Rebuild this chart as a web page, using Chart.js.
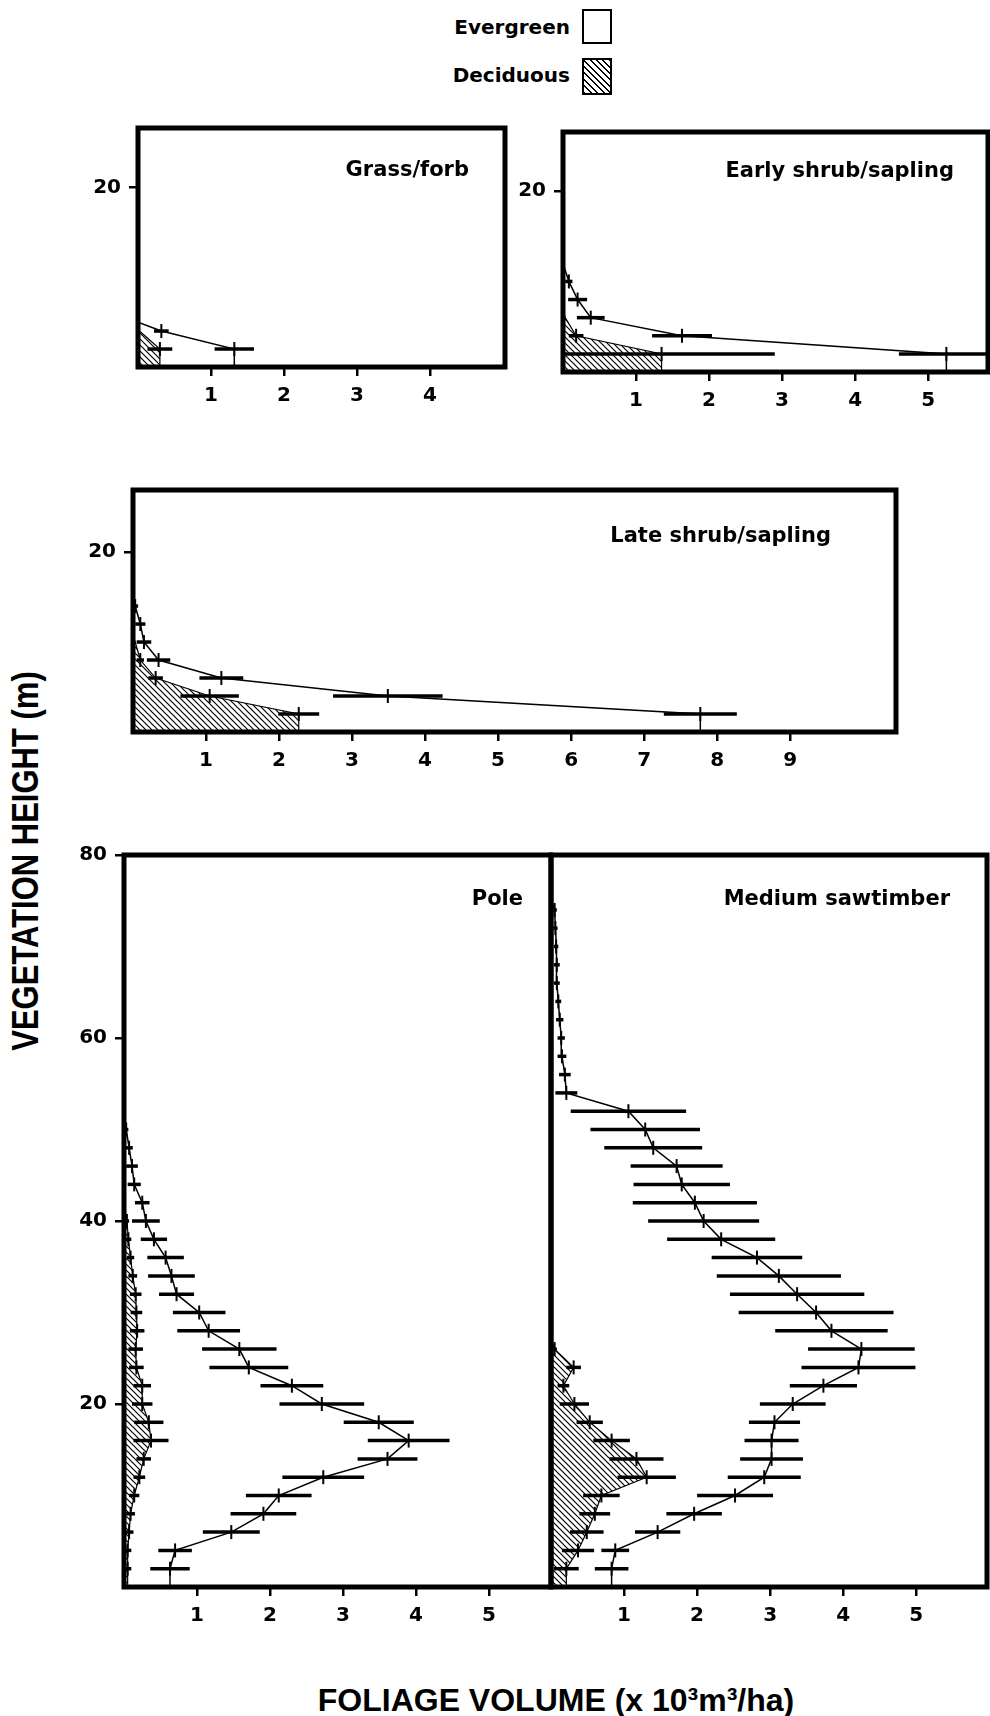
<!DOCTYPE html>
<html>
<head>
<meta charset="utf-8">
<script src="https://cdn.jsdelivr.net/npm/chart.js@4.4.1/dist/chart.umd.min.js"></script>
<style>
  html, body { margin: 0; padding: 0; background: #fff; }
  #page { position: relative; width: 990px; height: 1716px; overflow: hidden; background: #fff; }
  .panel { position: absolute; }
  .legend-text { position: absolute; right: 420px; font: bold 20px "DejaVu Sans", sans-serif; line-height: 24px; color: #000; }
  .legend-box { position: absolute; left: 582px; width: 26px; border: 2.5px solid #000; background: #fff; }
  #hatchBox { background: repeating-linear-gradient(45deg, #000 0 1.4px, #fff 1.4px 4.5px); }
  #ylab { position: absolute; left: 26px; top: 861px; white-space: nowrap;
          transform: translate(-50%, -50%) rotate(-90deg) scaleY(1.2);
          font: bold 31px "Liberation Sans", sans-serif; color: #000; }
  #xlab { position: absolute; left: 556px; top: 1700px; white-space: nowrap;
          transform: translate(-50%, -50%);
          font: bold 32px "Liberation Sans", sans-serif; color: #000; }
</style>
</head>
<body>
<div id="page">
  <div class="legend-text" style="top:15px">Evergreen</div>
  <div class="legend-box" style="top:9px;height:31px"></div>
  <div class="legend-text" style="top:63px">Deciduous</div>
  <div class="legend-box" id="hatchBox" style="top:58px;height:33px"></div>
  <div id="ylab">VEGETATION HEIGHT (m)</div>
  <div id="xlab">FOLIAGE VOLUME (x 10³m³/ha)</div>
</div>
<script>
// ---- data (foliage volume x10^3 m^3/ha by height in m) ----

// Grass/forb
const grassHeights = [0, 2, 4, 5];
const grassTotal = [1.32, 1.32, 0.32, 0];
const grassTotalErr = [0, 0.27, 0.1, 0];
const grassDecidHeights = [0, 2, 4];
const grassDecid = [0.3, 0.3, 0.02];
const grassDecidErr = [0, 0.17, 0];

// Early shrub/sapling
const earlyHeights = [0, 2, 4, 6, 8, 10, 12];
const earlyTotal = [5.25, 5.25, 1.63, 0.38, 0.2, 0.08, 0];
const earlyTotalErr = [0, 0.65, 0.41, 0.19, 0.13, 0.05, 0];
const earlyDecidHeights = [0, 2, 4, 6, 7];
const earlyDecid = [1.35, 1.35, 0.18, 0.03, 0];
const earlyDecidErr = [0, 1.55, 0.1, 0, 0];

// Late shrub/sapling
const lateHeights = [0, 2, 4, 6, 8, 10, 12, 14, 16];
const lateTotal = [7.77, 7.77, 3.49, 1.21, 0.35, 0.15, 0.1, 0.03, 0];
const lateTotalErr = [0, 0.5, 0.75, 0.3, 0.16, 0.1, 0.07, 0.04, 0];
const lateDecidHeights = [0, 2, 4, 6, 8, 10, 11];
const lateDecid = [2.27, 2.27, 1.05, 0.31, 0.1, 0.03, 0];
const lateDecidErr = [0, 0.28, 0.4, 0.1, 0.05, 0, 0];

// Pole
const poleHeights = [0, 2, 4, 6, 8, 10, 12, 14, 16, 18, 20, 22, 24, 26, 28, 30, 32, 34, 36, 38, 40, 42, 44, 46, 48, 50, 51];
const poleTotal = [0.63, 0.63, 0.70, 1.47, 1.91, 2.12, 2.73, 3.61, 3.90, 3.49, 2.71, 2.30, 1.71, 1.58, 1.16, 1.03, 0.72, 0.65, 0.57, 0.41, 0.30, 0.25, 0.14, 0.11, 0.07, 0.03, 0];
const poleTotalErr = [0, 0.27, 0.23, 0.39, 0.45, 0.45, 0.56, 0.41, 0.56, 0.48, 0.58, 0.43, 0.54, 0.51, 0.43, 0.36, 0.24, 0.32, 0.25, 0.18, 0.19, 0.1, 0.09, 0.08, 0.05, 0.03, 0];
const poleDecidHeights = [0, 2, 4, 6, 8, 10, 12, 14, 16, 18, 20, 22, 24, 26, 28, 30, 32, 34, 36, 38, 40, 42];
const poleDecid = [0.05, 0.05, 0.05, 0.07, 0.09, 0.14, 0.21, 0.27, 0.37, 0.34, 0.25, 0.25, 0.17, 0.16, 0.18, 0.17, 0.16, 0.12, 0.09, 0.06, 0.04, 0];
const poleDecidErr = [0, 0.05, 0.05, 0.06, 0.06, 0.07, 0.08, 0.1, 0.24, 0.2, 0.14, 0.12, 0.1, 0.1, 0.1, 0.08, 0.08, 0.06, 0.05, 0.04, 0.03, 0];

// Medium sawtimber
const msHeights = [0, 2, 4, 6, 8, 10, 12, 14, 16, 18, 20, 22, 24, 26, 28, 30, 32, 34, 36, 38, 40, 42, 44, 46, 48, 50, 52, 54, 56, 58, 60, 62, 64, 66, 68, 70, 72, 74, 75];
const msTotal = [0.83, 0.83, 0.88, 1.46, 1.96, 2.52, 2.92, 3.02, 3.02, 3.06, 3.31, 3.73, 4.21, 4.25, 3.84, 3.63, 3.37, 3.12, 2.82, 2.33, 2.09, 1.97, 1.79, 1.72, 1.40, 1.29, 1.06, 0.21, 0.19, 0.15, 0.14, 0.12, 0.10, 0.08, 0.08, 0.07, 0.06, 0.05, 0];
const msTotalErr = [0, 0.23, 0.19, 0.31, 0.38, 0.52, 0.50, 0.43, 0.37, 0.35, 0.45, 0.46, 0.78, 0.73, 0.77, 1.06, 0.92, 0.85, 0.62, 0.74, 0.76, 0.85, 0.66, 0.63, 0.67, 0.75, 0.79, 0.15, 0.08, 0.06, 0.05, 0.05, 0.04, 0.04, 0.04, 0.03, 0.03, 0.03, 0];
const msDecidHeights = [0, 2, 4, 6, 8, 10, 12, 14, 16, 18, 20, 22, 24, 26, 27];
const msDecid = [0.21, 0.21, 0.37, 0.49, 0.60, 0.69, 1.31, 1.17, 0.83, 0.53, 0.32, 0.17, 0.31, 0.05, 0];
const msDecidErr = [0, 0.17, 0.22, 0.23, 0.21, 0.25, 0.4, 0.37, 0.25, 0.18, 0.2, 0.08, 0.1, 0.03, 0];

// tick labels
const smallYTicks = [20];
const tallYTicks = [20, 40, 60, 80];
const grassXTicks = [1, 2, 3, 4];
const fiveXTicks = [1, 2, 3, 4, 5];
const lateXTicks = [1, 2, 3, 4, 5, 6, 7, 8, 9];

Chart.defaults.font.family = '"DejaVu Sans", sans-serif';
Chart.defaults.color = '#000';

function makeHatch() {
  const c = document.createElement('canvas');
  c.width = 6; c.height = 6;
  const g = c.getContext('2d');
  g.strokeStyle = '#000';
  g.lineWidth = 1.2;
  g.beginPath();
  g.moveTo(-1, -1); g.lineTo(7, 7);
  g.moveTo(-1, 5); g.lineTo(1, 7);
  g.moveTo(5, -1); g.lineTo(7, 1);
  g.stroke();
  return g.createPattern(c, 'repeat');
}
const hatch = makeHatch();

// horizontal error bars, drawn from the chart's own scales
const errorBars = {
  id: 'errorBars',
  afterDatasetsDraw(chart) {
    const {ctx, chartArea: a, scales} = chart;
    ctx.save();
    ctx.beginPath();
    ctx.rect(a.left, a.top, a.width, a.height);
    ctx.clip();
    ctx.strokeStyle = '#000';
    ctx.lineWidth = 3.5;
    chart.data.datasets.forEach(ds => {
      ds.data.forEach((p, i) => {
        const e = ds.errors[i];
        if (!e) return;
        const y = scales.y.getPixelForValue(p.y);
        ctx.beginPath();
        ctx.moveTo(scales.x.getPixelForValue(p.x - e), y);
        ctx.lineTo(scales.x.getPixelForValue(p.x + e), y);
        ctx.stroke();
      });
    });
    ctx.restore();
  }
};

const frame = {
  id: 'frame',
  afterDraw(chart) {
    const {ctx, chartArea: a} = chart;
    ctx.save();
    ctx.strokeStyle = '#000';
    ctx.lineWidth = 5;
    ctx.strokeRect(a.left, a.top, a.width, a.height);
    ctx.restore();
  }
};

const panelTitle = {
  id: 'panelTitle',
  afterDraw(chart, args, opts) {
    const {ctx, chartArea: a} = chart;
    ctx.save();
    ctx.font = 'bold 21px "DejaVu Sans"';
    ctx.fillStyle = '#000';
    ctx.textAlign = 'right';
    ctx.textBaseline = 'middle';
    ctx.fillText(opts.text, a.right - opts.gap, a.top + opts.dy);
    ctx.restore();
  }
};

function toPoints(heights, values) {
  return heights.map((h, i) => ({x: values[i], y: h}));
}

function makePanel(p) {
  const padL = 75, padT = 22, padR = 22, padB = 55;
  const w = p.right - p.left, h = p.bottom - p.top;
  const canvas = document.createElement('canvas');
  canvas.className = 'panel';
  canvas.width = w + padL + padR;
  canvas.height = h + padT + padB;
  canvas.style.width = canvas.width + 'px';
  canvas.style.height = canvas.height + 'px';
  canvas.style.left = (p.left - padL) + 'px';
  canvas.style.top = (p.top - padT) + 'px';
  document.getElementById('page').appendChild(canvas);

  const marker = errs => (c => errs[c.dataIndex] > 0 ? 7 : 0);

  new Chart(canvas, {
    type: 'line',
    data: {
      datasets: [{
        label: 'Evergreen + deciduous',
        data: toPoints(p.heights, p.total),
        errors: p.totalErr,
        borderColor: '#000',
        borderWidth: 1.5,
        fill: false,
        tension: 0,
        pointStyle: 'line',
        rotation: 90,
        pointRadius: marker(p.totalErr),
        pointBorderColor: '#000',
        pointBorderWidth: 2
      }, {
        label: 'Deciduous',
        data: toPoints(p.decidHeights, p.decid),
        errors: p.decidErr,
        borderColor: '#000',
        borderWidth: 1.2,
        backgroundColor: hatch,
        fill: 'origin',
        tension: 0,
        pointStyle: 'line',
        rotation: 90,
        pointRadius: marker(p.decidErr),
        pointBorderColor: '#000',
        pointBorderWidth: 2
      }]
    },
    options: {
      indexAxis: 'y',
      responsive: false,
      animation: false,
      events: [],
      layout: { padding: { left: 0, top: padT, right: padR, bottom: 0 } },
      plugins: {
        legend: { display: false },
        tooltip: { enabled: false },
        panelTitle: { text: p.title, gap: p.titleGap, dy: p.titleDy }
      },
      scales: {
        x: {
          type: 'linear', min: 0, max: p.xMax,
          afterBuildTicks: s => { s.ticks = p.xTicks.map(v => ({value: v})); },
          afterFit: s => { s.height = padB; },
          ticks: { font: { size: 20, weight: 'bold' }, color: '#000', padding: 8, maxRotation: 0, autoSkip: false },
          grid: { drawOnChartArea: false, drawTicks: true, tickLength: 9, color: '#000', lineWidth: 2.5 },
          border: { display: false }
        },
        y: {
          type: 'linear', min: 0, max: p.yMax,
          afterBuildTicks: s => { s.ticks = p.yTicks.map(v => ({value: v})); },
          afterFit: s => { s.width = padL; },
          ticks: { font: { size: 20, weight: 'bold' }, color: '#000', padding: 8, autoSkip: false },
          grid: { drawOnChartArea: false, drawTicks: true, tickLength: 9, color: '#000', lineWidth: 2.5 },
          border: { display: false }
        }
      }
    },
    plugins: [errorBars, frame, panelTitle]
  });
}

makePanel({
  left: 138, top: 128, right: 505, bottom: 367, xMax: 5.03, yMax: 26.6,
  xTicks: grassXTicks, yTicks: smallYTicks,
  title: 'Grass/forb', titleGap: 36, titleDy: 43,
  heights: grassHeights, total: grassTotal, totalErr: grassTotalErr,
  decidHeights: grassDecidHeights, decid: grassDecid, decidErr: grassDecidErr
});

makePanel({
  left: 563, top: 132, right: 988, bottom: 372, xMax: 5.82, yMax: 26.5,
  xTicks: fiveXTicks, yTicks: smallYTicks,
  title: 'Early shrub/sapling', titleGap: 34, titleDy: 40,
  heights: earlyHeights, total: earlyTotal, totalErr: earlyTotalErr,
  decidHeights: earlyDecidHeights, decid: earlyDecid, decidErr: earlyDecidErr
});

makePanel({
  left: 133, top: 490, right: 896, bottom: 732, xMax: 10.45, yMax: 26.9,
  xTicks: lateXTicks, yTicks: smallYTicks,
  title: 'Late shrub/sapling', titleGap: 65, titleDy: 47,
  heights: lateHeights, total: lateTotal, totalErr: lateTotalErr,
  decidHeights: lateDecidHeights, decid: lateDecid, decidErr: lateDecidErr
});

makePanel({
  left: 124, top: 855, right: 551, bottom: 1587, xMax: 5.85, yMax: 80,
  xTicks: fiveXTicks, yTicks: tallYTicks,
  title: 'Pole', titleGap: 28, titleDy: 45,
  heights: poleHeights, total: poleTotal, totalErr: poleTotalErr,
  decidHeights: poleDecidHeights, decid: poleDecid, decidErr: poleDecidErr
});

makePanel({
  left: 551, top: 855, right: 987, bottom: 1587, xMax: 5.97, yMax: 80,
  xTicks: fiveXTicks, yTicks: [],
  title: 'Medium sawtimber', titleGap: 37, titleDy: 45,
  heights: msHeights, total: msTotal, totalErr: msTotalErr,
  decidHeights: msDecidHeights, decid: msDecid, decidErr: msDecidErr
});
</script>
</body>
</html>
